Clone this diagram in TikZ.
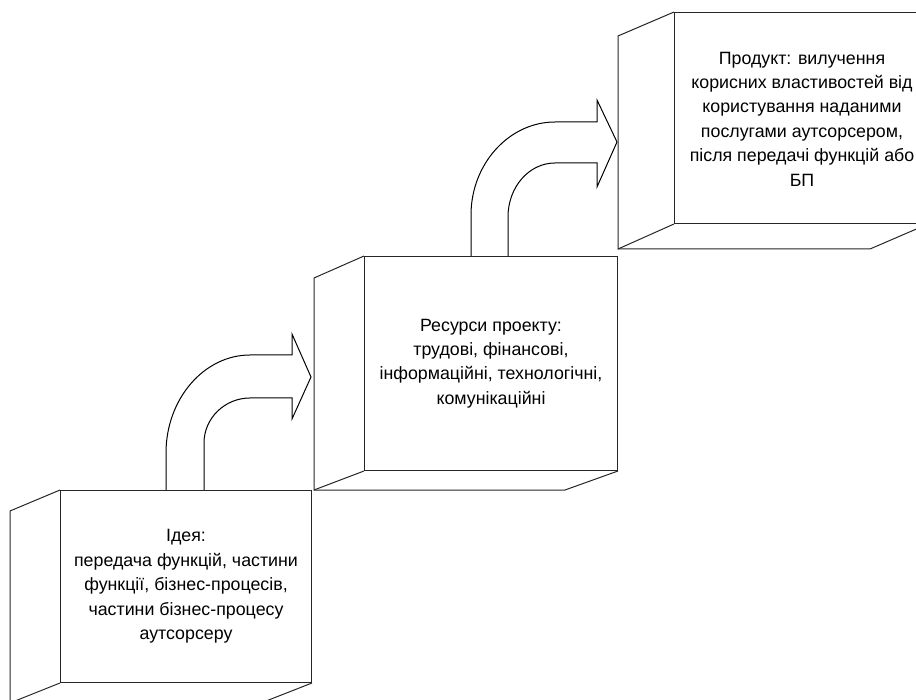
\documentclass[tikz,border=0pt]{standalone}
\usepackage{fontspec}
\setmainfont{Liberation Sans}
\tikzset{
  labelfont/.style={font=\fontsize{17.8}{24.4}\selectfont},
  front/.style={draw=black!85,line width=1pt,fill=white,align=center,inner sep=0pt,anchor=north west,labelfont},
  edge3d/.style={draw=black!85,line width=1pt},
  bent/.style={draw=black,line width=1pt,fill=white,line join=miter}
}
\begin{document}
\begin{tikzpicture}[x=1pt,y=-1pt]
\useasboundingbox (0,0) rectangle (916,700);
\clip (0,0) rectangle (916,700);
% arrows
\draw[bent] (166,490) -- (166,453) .. controls (166,399) and (204,355) .. (250,355) -- (292,355) -- (292,334) -- (311,377) -- (292,419) -- (292,398) -- (250,398) .. controls (225,398) and (204,418) .. (204,443) -- (204,490);
\draw[bent] (471,256) -- (471,215) .. controls (471,164) and (509,122) .. (555,122) -- (597,122) -- (597,100) -- (617,142) -- (597,187) -- (597,163) -- (555,163) .. controls (529,163) and (508,187) .. (508,217) -- (508,256);
% box 1
\node[front,minimum width=251pt,minimum height=192pt] (ideya) at (60,490) {Ідея:\\передача функцій, частини\\функції, бізнес-процесів,\\частини бізнес-процесу\\аутсорсеру};
\coordinate (a1) at (10,511);
\coordinate (a2) at (10,703);
\coordinate (a3) at (261,703);
\draw[edge3d] (ideya.north west) -- (a1) -- (a2) -- (ideya.south west);
\draw[edge3d] (a2) -- (a3) -- (ideya.south east);
% box 2
\node[front,minimum width=253pt,minimum height=214pt] (resursy) at (364,256) {Ресурси проекту:\\трудові, фінансові,\\інформаційні, технологічні,\\комунікаційні};
\coordinate (b1) at (314,278);
\coordinate (b2) at (314,490);
\coordinate (b3) at (565,490);
\draw[edge3d] (resursy.north west) -- (b1) -- (b2) -- (resursy.south west);
\draw[edge3d] (b2) -- (b3) -- (resursy.south east);
% box 3
\node[front,minimum width=253pt,minimum height=211pt] (produkt) at (674,12) {};
\node[labelfont,align=center,inner sep=0pt] (produkttext) at (802,119) {Продукт: вилучення\\корисних властивостей від\\користування наданими\\послугами аутсорсером,\\після передачі функцій або\\БП};
\coordinate (c1) at (618,36);
\coordinate (c2) at (618,249);
\coordinate (c3) at (870,249);
\draw[edge3d] (produkt.north west) -- (c1) -- (c2) -- (produkt.south west);
\draw[edge3d] (c2) -- (c3) -- (produkt.south east);
\end{tikzpicture}
\end{document}
